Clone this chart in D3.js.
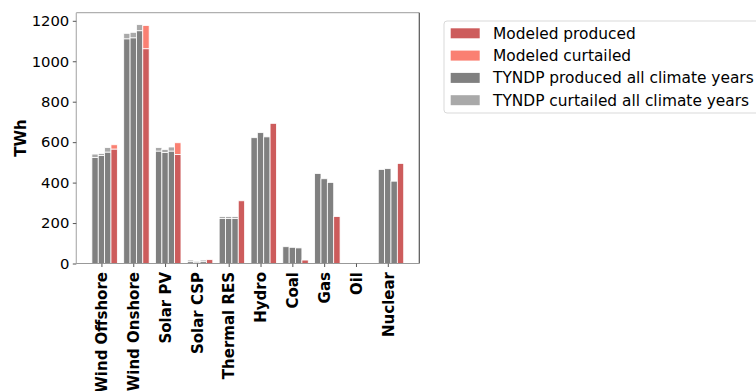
<!DOCTYPE html>
<html>
<head>
<meta charset="utf-8">
<script src="https://cdn.jsdelivr.net/npm/d3@7"></script>
<style>
body{margin:0;background:#fff;}
svg{display:block;font-family:"DejaVu Sans",sans-serif;}
</style>
</head>
<body>
<svg id="chart" width="756" height="391"></svg>
<script>
const categories = ["Wind Offshore","Wind Onshore","Solar PV","Solar CSP","Thermal RES","Hydro","Coal","Gas","Oil","Nuclear"];
// TYNDP climate years (3 per category): produced and curtailed
const tyndpProduced = [
  [524, 534, 551],
  [1111, 1116, 1151],
  [556, 549, 556],
  [9, 7, 9],
  [222, 222, 222],
  [622, 647, 626],
  [83, 80, 77],
  [445, 419, 401],
  [0, 0, 0],
  [465, 469, 407]
];
const tyndpCurtailed = [
  [17, 10, 22],
  [27, 27, 30],
  [17, 15, 20],
  [8, 5, 8],
  [10, 10, 10],
  [0, 0, 0],
  [0, 0, 0],
  [0, 0, 0],
  [0, 0, 0],
  [0, 0, 0]
];
const modeledProduced = [566, 1062, 539, 19, 310, 693, 17, 232, 0, 495];
const modeledCurtailed = [21, 115, 58, 0, 0, 0, 0, 0, 0, 0];
const yTicks = [0, 200, 400, 600, 800, 1000, 1200];
const legendLabels = ["Modeled produced","Modeled curtailed","TYNDP produced all climate years","TYNDP curtailed all climate years"];
const colors = {mp:"#cd5c5c", mc:"#fa8072", tp:"#808080", tc:"#a9a9a9"};

const svg = d3.select("#chart");
const L = 76.3, R = 419.3, T = 12.7, B = 263.5;
const barW = 0.2;
// x domain like matplotlib auto-margins
const xMinData = -0.3, xMaxData = categories.length - 1 + 0.5;
const xPad = (xMaxData - xMinData) * 0.05;
const x = d3.scaleLinear().domain([xMinData - xPad, xMaxData + xPad]).range([L, R]);
let maxTot = 0;
categories.forEach((c,i)=>{
  tyndpProduced[i].forEach((v,j)=>{maxTot=Math.max(maxTot,v+tyndpCurtailed[i][j]);});
  maxTot=Math.max(maxTot, modeledProduced[i]+modeledCurtailed[i]);
});
const y = d3.scaleLinear().domain([0, maxTot*1.05]).range([B, T]);

const g = svg.append("g");
const bars = [];
categories.forEach((c,i)=>{
  [-0.2,0,0.2].forEach((off,j)=>{
    bars.push({x:i+off, y0:0, y1:tyndpProduced[i][j], col:colors.tp});
    bars.push({x:i+off, y0:tyndpProduced[i][j], y1:tyndpProduced[i][j]+tyndpCurtailed[i][j], col:colors.tc});
  });
  bars.push({x:i+0.4, y0:0, y1:modeledProduced[i], col:colors.mp});
  bars.push({x:i+0.4, y0:modeledProduced[i], y1:modeledProduced[i]+modeledCurtailed[i], col:colors.mc});
});
g.selectAll("rect.bar").data(bars.filter(d=>d.y1>d.y0)).enter().append("rect")
  .attr("class","bar")
  .attr("x", d=>x(d.x-barW/2))
  .attr("width", d=>x(d.x+barW/2)-x(d.x-barW/2))
  .attr("y", d=>y(d.y1))
  .attr("height", d=>y(d.y0)-y(d.y1))
  .attr("fill", d=>d.col)
  .attr("stroke","#fff").attr("stroke-width",0.8);

// spines
svg.append("line").attr("x1",L).attr("x2",R).attr("y1",T).attr("y2",T).attr("stroke","#b0b0b0").attr("stroke-width",1.2);
svg.append("line").attr("x1",L).attr("x2",L).attr("y1",T).attr("y2",B).attr("stroke","#b0b0b0").attr("stroke-width",1.2);
svg.append("line").attr("x1",R).attr("x2",R).attr("y1",T).attr("y2",B).attr("stroke","#555").attr("stroke-width",1.2);
svg.append("line").attr("x1",L).attr("x2",R).attr("y1",B).attr("y2",B).attr("stroke","#999").attr("stroke-width",1.2);

// y axis
const yAxis = svg.append("g").attr("transform",`translate(${L},0)`)
  .call(d3.axisLeft(y).tickValues(yTicks).tickSize(3.5).tickPadding(3.5).tickFormat(d3.format("d")));
yAxis.select(".domain").remove();
yAxis.selectAll("line").attr("stroke","#555");
yAxis.selectAll("text").attr("font-size","14.8px").attr("fill","#000").attr("font-family","DejaVu Sans");

// x axis
const xAxis = svg.append("g").attr("transform",`translate(0,${B})`)
  .call(d3.axisBottom(x).tickValues(d3.range(categories.length)).tickSize(3.5).tickPadding(3.5).tickFormat(i=>categories[i]));
xAxis.select(".domain").remove();
xAxis.selectAll("line").attr("stroke","#555");
xAxis.selectAll("text")
  .attr("font-size","15px").attr("font-weight","bold").attr("fill","#000").attr("font-family","DejaVu Sans")
  .attr("transform","rotate(-90)")
  .attr("text-anchor","end")
  .attr("x",-8.5).attr("y",0).attr("dy","0.35em");

// y label
svg.append("text").attr("transform",`translate(25.5,${(T+B)/2}) rotate(-90)`)
  .attr("text-anchor","middle").attr("font-size","15px").attr("font-weight","bold").text("TWh");

// legend
const lg = svg.append("g");
lg.append("rect").attr("x",444).attr("y",21).attr("width",330).attr("height",92).attr("rx",3)
  .attr("fill","#fff").attr("stroke","#d9d9d9").attr("stroke-width",1);
const legCols = [colors.mp, colors.mc, colors.tp, colors.tc];
legendLabels.forEach((lab,i)=>{
  const yy = 33.3 + i*22.3;
  lg.append("rect").attr("x",450.7).attr("y",yy-5).attr("width",29).attr("height",10).attr("fill",legCols[i]);
  lg.append("text").attr("x",493).attr("y",yy).attr("dy","0.35em").attr("font-size","15.4px").attr("fill","#000").text(lab);
});
</script>
</body>
</html>
